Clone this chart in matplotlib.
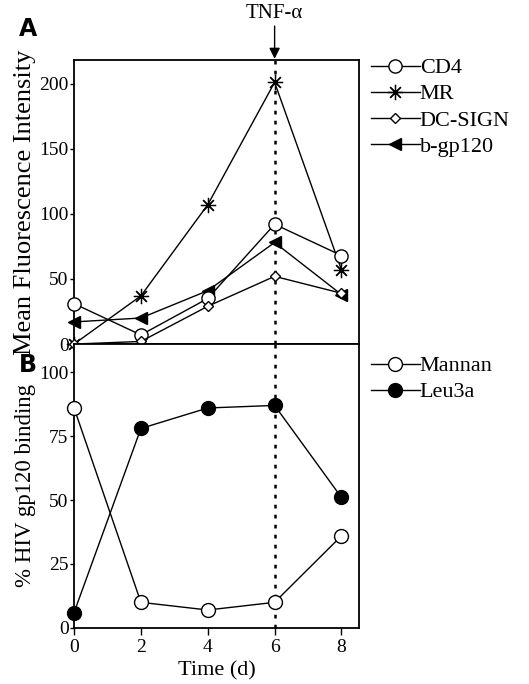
import matplotlib.pyplot as plt

plt.rcParams['font.family'] = ['Liberation Serif', 'DejaVu Serif']

days = [0, 2, 4, 6, 8]

# panel A: mean fluorescence intensity
cd4 = [31, 7, 35, 92, 68]
mr = [0, 37, 107, 201, 57]
dc_sign = [0, 2, 29, 52, 39]
b_gp120 = [17, 20, 41, 78, 38]

# panel B: % HIV gp120 binding
mannan = [86, 10, 7, 10, 36]
leu3a = [6, 78, 86, 87, 51]

a_ticks = [0, 50, 100, 150, 200]
b_ticks = [0, 25, 50, 75, 100]

asterisk = (8, 2, 0)

fig = plt.figure(figsize=(5.29, 6.84), dpi=100)
ax_a = fig.add_axes([0.140, 0.497, 0.539, 0.415])
ax_b = fig.add_axes([0.140, 0.082, 0.539, 0.415])

kw = dict(color='black', lw=1.0, mec='black', clip_on=False)
ax_a.plot(days, mr, marker=asterisk, ms=11, mew=0.9, label='MR', zorder=3, **kw)
ax_a.plot(days, cd4, marker='o', ms=9.5, mfc='white', mew=1.0, label='CD4', zorder=4, **kw)
ax_a.plot(days, b_gp120, marker='<', ms=8, mfc='black', label='b-gp120', zorder=3, **kw)
ax_a.plot(days, dc_sign, marker='D', ms=5.5, mfc='white', mew=1.0, label='DC-SIGN', zorder=5, **kw)

ax_b.plot(days, mannan, marker='o', ms=10, mfc='white', mew=1.0, label='Mannan', zorder=4, **kw)
ax_b.plot(days, leu3a, marker='o', ms=10, mfc='black', label='Leu3a', zorder=4, **kw)

ax_a.set_xlim(0, 8.53)
ax_a.set_ylim(0, 218)
ax_b.set_xlim(0, 8.53)
ax_b.set_ylim(0, 111)

for ax in (ax_a, ax_b):
    ax.axvline(6, color='black', ls=(0, (1.5, 2.5)), lw=1.8, zorder=1)
    for s in ax.spines.values():
        s.set_linewidth(1.3)
    ax.tick_params(direction='out', length=3, width=1.0, labelsize=14, pad=1)

ax_a.set_yticks(a_ticks)
ax_a.set_xticks([])
ax_b.set_yticks(b_ticks)
ax_b.set_xticks(days)
ax_b.tick_params(axis='x', length=5, pad=3)

ax_a.set_ylabel('Mean Fluorescence Intensity', fontsize=19)
ax_b.set_ylabel('% HIV gp120 binding', fontsize=16.5)
ax_a.yaxis.set_label_coords(-0.135, 0.5)
ax_b.yaxis.set_label_coords(-0.135, 0.5)
ax_b.set_xlabel('Time (d)', fontsize=16, labelpad=4)

fig.text(0.035, 0.958, 'A', fontsize=17, fontweight='bold', family='DejaVu Sans', va='center')
fig.text(0.035, 0.466, 'B', fontsize=17, fontweight='bold', family='DejaVu Sans', va='center')

ax_a.annotate('TNF-\u03b1', xy=(6, 1.0), xycoords=('data', 'axes fraction'),
              xytext=(6, 1.13), textcoords=('data', 'axes fraction'),
              ha='center', va='bottom', fontsize=15,
              arrowprops=dict(arrowstyle='-|>', color='black', lw=1.0,
                              mutation_scale=16, shrinkA=0, shrinkB=1))

h = ax_a.get_legend_handles_labels()
order = ['CD4', 'MR', 'DC-SIGN', 'b-gp120']
handles = [h[0][h[1].index(n)] for n in order]
ax_a.legend(handles, order, loc='upper left', bbox_to_anchor=(1.01, 1.04),
            frameon=False, fontsize=16, handlelength=2.2, handletextpad=0.0,
            labelspacing=0.25, borderaxespad=0)
ax_b.legend(loc='upper left', bbox_to_anchor=(1.01, 0.99), frameon=False,
            fontsize=16, handlelength=2.2, handletextpad=0.0,
            labelspacing=0.25, borderaxespad=0)

fig.savefig('out.png', dpi=100)
